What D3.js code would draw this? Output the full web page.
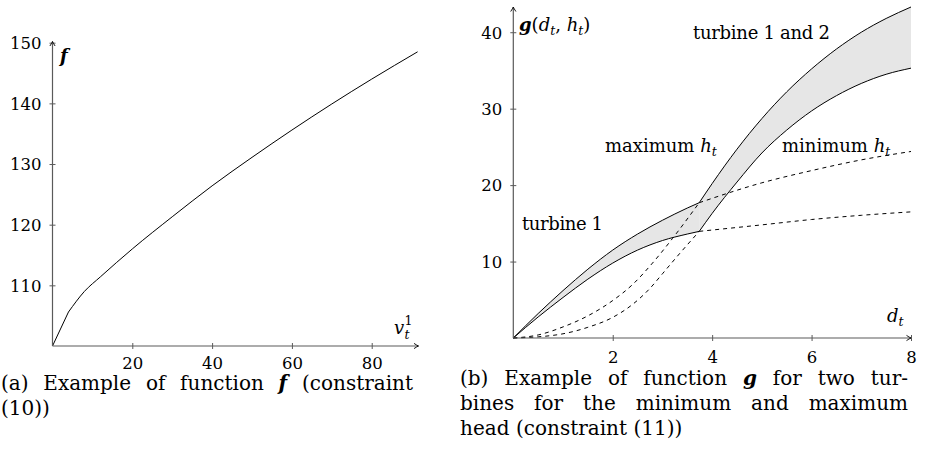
<!DOCTYPE html>
<html><head><meta charset="utf-8">
<script src="https://cdn.jsdelivr.net/npm/d3@7"></script>
<style>
body{margin:0;background:#fff}
svg{display:block}
text{font-family:"DejaVu Serif","Liberation Serif",serif;fill:#000}
</style>
</head><body><svg id="c" width="925" height="472"></svg>
<script>
// ---- chart (a): f(v)
const fV   = [0, 4, 8, 12, 20, 30, 40, 50, 60, 70, 80, 91.5];
const fVal = [100, 105.6, 109.0, 111.4, 116.0, 121.3, 126.4, 131.1, 135.6, 139.9, 144.0, 148.5];
const fXTicks = [20, 40, 60, 80];
const fYTicks = [110, 120, 130, 140, 150];

// ---- chart (b): g(d,h)
const t1D    = [0, 0.5, 1, 1.5, 2, 2.5, 3, 3.5, 3.74];
const t1MaxG = [0, 3.2, 6.2, 9.0, 11.5, 13.6, 15.4, 17.0, 17.7];
const t1MinG = [0, 2.75, 5.3, 7.7, 9.8, 11.5, 12.75, 13.6, 13.95];
const t12D    = [3.74, 4.0, 4.5, 5.0, 5.5, 6.0, 6.5, 7.0, 7.5, 8.0];
const t12MaxG = [17.7, 20.2, 24.7, 28.7, 32.2, 35.2, 37.8, 40.0, 41.8, 43.3];
const t12MinG = [13.95, 16.3, 20.4, 24.2, 27.2, 29.7, 31.7, 33.3, 34.5, 35.3];
const t12MaxLowD = [0, 0.5, 1, 1.5, 2, 2.4, 2.8, 3.2, 3.74];
const t12MaxLowG = [0, 0.4, 1.45, 2.9, 4.9, 7.0, 9.8, 13.0, 17.7];
const t12MinLowD = [0, 0.5, 1, 1.5, 2, 2.4, 2.75, 3.0, 3.3, 3.74];
const t12MinLowG = [0, 0.15, 0.55, 1.4, 2.7, 4.4, 6.5, 8.4, 10.7, 13.95];
const t1MaxExtD = [3.74, 5, 6, 7, 8];
const t1MaxExtG = [17.7, 20.3, 21.9, 23.3, 24.4];
const t1MinExtD = [3.74, 5, 6, 7, 8];
const t1MinExtG = [13.95, 14.8, 15.5, 16.05, 16.5];
const gXTicks = [2, 4, 6, 8];
const gYTicks = [10, 20, 30, 40];

const svg = d3.select("#c");
const AX = "#5a5a5a";
const FONT = '"DejaVu Serif","Liberation Serif",serif';
const TICK = "16.5px", LAB = "18px", SUB = "12.5px", CAP = "20px";
const zip = (a, b) => a.map((v, i) => [v, b[i]]);
const mono = d3.curveMonotoneX;

function arrow(g, x, y, dir) {
  const s = 4.5, w = 2.6;
  let p;
  if (dir === "right") p = `M${x - s},${y - w} Q${x - 1.5},${y - 0.6} ${x},${y} Q${x - 1.5},${y + 0.6} ${x - s},${y + w}`;
  else p = `M${x - w},${y + s} Q${x - 0.6},${y + 1.5} ${x},${y} Q${x + 0.6},${y + 1.5} ${x + w},${y + s}`;
  g.append("path").attr("d", p).attr("fill", "none").attr("stroke", "#000").attr("stroke-width", 0.9);
}

function axes(g, x, y, xt, yt, xLabDy, xEnd, yEnd) {
  const x0 = x.range()[0], y0 = y.range()[0];
  const xa = g.append("g").attr("transform", `translate(0,${y0})`)
    .call(d3.axisBottom(x).tickValues(xt).tickSize(3).tickFormat(d3.format("d")));
  xa.select(".domain").remove();
  xa.selectAll(".tick line").attr("y1", -3).attr("y2", 3).attr("stroke", AX);
  xa.selectAll(".tick text").attr("y", xLabDy).attr("dy", "0.35em")
    .style("font-family", FONT).style("font-size", TICK).attr("fill", "#000");
  const ya = g.append("g").attr("transform", `translate(${x0},0)`)
    .call(d3.axisLeft(y).tickValues(yt).tickSize(3).tickFormat(d3.format("d")));
  ya.select(".domain").remove();
  ya.selectAll(".tick line").attr("x1", -3).attr("x2", 3).attr("stroke", AX);
  ya.selectAll(".tick text").attr("x", -11).attr("dy", "0.35em")
    .style("font-family", FONT).style("font-size", TICK).attr("fill", "#000");
  g.append("line").attr("x1", x0).attr("x2", xEnd).attr("y1", y0).attr("y2", y0)
    .attr("stroke", AX).attr("stroke-width", 1.2);
  g.append("line").attr("x1", x0).attr("x2", x0).attr("y1", y0).attr("y2", yEnd)
    .attr("stroke", AX).attr("stroke-width", 1.2);
  arrow(g, xEnd, y0, "right");
  arrow(g, x0, yEnd, "up");
}

// ===== chart (a)
{
  const x = d3.scaleLinear([0, 91.7], [52.5, 418.4]);
  const y = d3.scaleLinear([100, 150], [346, 42.7]);
  const g = svg.append("g");
  const pts = zip(fV, fVal);
  const line = d3.line().x(d => x(d[0])).y(d => y(d[1]));
  g.append("path").attr("d", line(pts.slice(0, 2))).attr("fill", "none").attr("stroke", "#000").attr("stroke-width", 1);
  g.append("path").attr("d", line.curve(mono)(pts.slice(1))).attr("fill", "none").attr("stroke", "#000").attr("stroke-width", 1);
  axes(g, x, y, fXTicks, fYTicks, 17, 418.5, 41.5);
  g.append("text").attr("x", 60).attr("y", 62).style("font-size", LAB)
    .style("font-weight", "bold").style("font-style", "italic").text("f");
  g.append("text").attr("x", 394).attr("y", 334).style("font-size", LAB).style("font-style", "italic").text("v");
  g.append("text").attr("x", 404.5).attr("y", 325).style("font-size", SUB).text("1");
  g.append("text").attr("x", 404.5).attr("y", 339).style("font-size", SUB).style("font-style", "italic").text("t");
}

// ===== chart (b)
{
  const x = d3.scaleLinear([0, 8], [513.3, 911]);
  const y = d3.scaleLinear([0, 43.3], [338, 7]);
  const g = svg.append("g");
  const line = d3.line().x(d => x(d[0])).y(d => y(d[1])).curve(mono);
  const area = d3.area().x(d => x(d[0])).y0(d => y(d[1])).y1(d => y(d[2])).curve(mono);
  const tri = (D, lo, hi) => D.map((v, i) => [v, lo[i], hi[i]]);
  g.append("path").attr("d", area(tri(t1D, t1MinG, t1MaxG))).attr("fill", "#e6e6e6").attr("stroke", "none");
  g.append("path").attr("d", area(tri(t12D, t12MinG, t12MaxG))).attr("fill", "#e6e6e6").attr("stroke", "none");

  const solid = [[t1D, t1MaxG], [t1D, t1MinG], [t12D, t12MaxG], [t12D, t12MinG]];
  solid.forEach(([a, b]) => g.append("path").attr("d", line(zip(a, b)))
    .attr("fill", "none").attr("stroke", "#000").attr("stroke-width", 1));
  const dashed = [[t12MaxLowD, t12MaxLowG], [t12MinLowD, t12MinLowG], [t1MaxExtD, t1MaxExtG], [t1MinExtD, t1MinExtG]];
  dashed.forEach(([a, b]) => g.append("path").attr("d", line(zip(a, b)))
    .attr("fill", "none").attr("stroke", "#000").attr("stroke-width", 1).attr("stroke-dasharray", "4,4"));

  axes(g, x, y, gXTicks, gYTicks, 19, 911, 7);

  const lab = g.append("text").attr("x", 519).attr("y", 31).style("font-size", LAB);
  lab.append("tspan").style("font-weight", "bold").style("font-style", "italic").text("g");
  lab.append("tspan").text("(");
  lab.append("tspan").style("font-style", "italic").text("d");
  lab.append("tspan").style("font-style", "italic").style("font-size", SUB).attr("dy", 4).text("t");
  lab.append("tspan").attr("dy", -4).text(", ");
  lab.append("tspan").style("font-style", "italic").text("h");
  lab.append("tspan").style("font-style", "italic").style("font-size", SUB).attr("dy", 4).text("t");
  lab.append("tspan").attr("dy", -4).text(")");

  g.append("text").attr("x", 693).attr("y", 39).style("font-size", LAB).attr("textLength", 137).attr("lengthAdjust", "spacing").text("turbine 1 and 2");
  g.append("text").attr("x", 522).attr("y", 230).style("font-size", LAB).attr("textLength", 81).attr("lengthAdjust", "spacing").text("turbine 1");

  const hLab = (x0, txt) => {
    const t = g.append("text").attr("x", x0).attr("y", 152).style("font-size", LAB);
    t.append("tspan").text(txt + " ");
    t.append("tspan").style("font-style", "italic").text("h");
    t.append("tspan").style("font-style", "italic").style("font-size", SUB).attr("dy", 4).text("t");
  };
  hLab(605, "maximum");
  hLab(782, "minimum");

  const dl = g.append("text").attr("x", 887).attr("y", 322).style("font-size", LAB);
  dl.append("tspan").style("font-style", "italic").text("d");
  dl.append("tspan").style("font-style", "italic").style("font-size", SUB).attr("dy", 4).text("t");
}

// ===== captions (justified: extra space goes between words)
function capLine(x0, y0, words, width) {
  const nodes = words.map(w => {
    const t = svg.append("text").attr("y", y0).style("font-size", CAP);
    (Array.isArray(w) ? w : [{t: w}]).forEach(p => {
      const s = t.append("tspan").text(p.t);
      if (p.b) s.style("font-weight", "bold").style("font-style", "italic");
    });
    return t;
  });
  const ws = nodes.map(n => n.node().getComputedTextLength());
  const gap = width ? (width - d3.sum(ws)) / (words.length - 1) : 6.5;
  let xx = x0;
  nodes.forEach((n, i) => { n.attr("x", xx); xx += ws[i] + gap; });
}
capLine(1, 390, ["(a)", "Example", "of", "function", [{t: "f", b: 1}], "(constraint"], 412);
capLine(1, 415, ["(10))"]);
capLine(460, 385, ["(b)", "Example", "of", "function", [{t: "g", b: 1}], "for", "two", "tur-"], 448);
capLine(460, 410, ["bines", "for", "the", "minimum", "and", "maximum"], 448);
capLine(460, 435, ["head", "(constraint", "(11))"]);
</script>
</body></html>
